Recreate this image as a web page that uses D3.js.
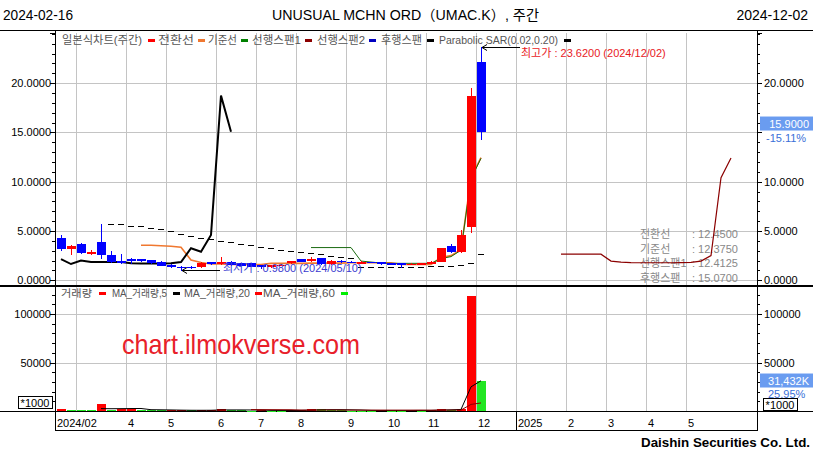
<!DOCTYPE html>
<html><head><meta charset="utf-8">
<script src="https://cdn.jsdelivr.net/npm/d3@7/dist/d3.min.js"></script>
<style>
body{margin:0;background:#fff;}
svg{display:block;}
text{font-family:Arial,"Liberation Sans","Noto Sans CJK KR",sans-serif;}
</style></head><body>
<svg id="c" width="813" height="455"></svg>
<script>
// ---------------- DATA ----------------
const startDate = "2024-02-16", endDate = "2024-12-02";
const titleText = "UNUSUAL MCHN ORD（UMAC.K）, 주간";
// weekly candles, index 0 = week of 2024-02-16
const opens  = [4.25,3.14,3.64,2.64,3.85,2.56,1.95,2.13,2.12,2.05,1.88,1.53,1.38,1.35,1.30,1.82,1.62,1.88,1.72,1.72,1.55,1.32,1.50,1.75,2.12,1.95,2.28,1.62,2.00,1.88,1.82,1.86,1.85,1.72,1.72,1.68,1.70,1.68,1.90,3.47,2.85,5.40,22.10];
const highs  = [4.59,3.55,3.75,3.10,5.70,2.99,2.65,2.30,2.20,2.10,1.95,1.70,1.50,1.45,1.85,1.90,2.32,1.95,1.80,1.78,1.60,1.60,1.70,2.00,2.20,2.35,2.30,2.10,2.05,1.95,1.92,1.90,1.88,1.78,1.75,1.75,1.76,1.95,3.30,3.70,5.10,19.50,23.62];
const lows   = [3.00,2.55,2.65,2.55,2.20,1.73,1.65,1.65,1.90,1.70,1.40,1.20,0.98,1.15,1.25,1.55,1.55,1.50,1.40,1.30,1.13,1.25,1.45,1.70,1.85,1.90,1.55,1.55,1.80,1.80,1.75,1.78,1.60,1.62,1.28,1.60,1.62,1.62,1.85,2.80,2.75,4.76,14.20];
const closes = [3.14,3.47,2.73,2.90,2.56,1.88,1.85,2.03,2.00,1.77,1.48,1.33,1.20,1.22,1.78,1.64,1.82,1.55,1.47,1.37,1.31,1.52,1.60,1.98,1.88,2.15,1.65,2.00,1.85,1.85,1.85,1.85,1.70,1.70,1.70,1.70,1.72,1.85,3.25,2.89,4.59,18.73,15.07];
// volume, thousands of shares
const volumes = [1.8,1.2,1.2,1.1,7.0,1.2,1.6,1.8,1.3,0.8,0.7,0.8,0.9,0.6,0.7,0.8,2.5,0.9,0.6,0.5,0.6,0.5,0.5,0.6,0.7,2.3,2.2,0.9,0.6,0.5,0.5,0.5,0.6,0.5,0.5,0.6,0.5,0.8,2.2,1.5,2.0,118.6,31.432];
// Ichimoku / indicators (null = not yet defined)
const tenkan = [null,null,null,null,null,null,null,null,3.55,3.55,3.5,3.45,3.35,2.05,1.8,1.65,1.65,1.6,1.6,1.6,1.6,1.72,1.72,1.72,1.72,1.74,1.74,1.74,1.74,1.78,1.78,1.78,1.78,1.78,1.62,1.6,1.6,1.6,2.3,2.5,3.1,10.4,12.45];
const kijunStart = 25;
const kijun = [3.32,3.32,3.32,3.32,3.32,1.95,1.85,1.75,1.72,1.72,1.72,1.72,1.72,2.2,2.4,3.05,10.3,12.375];
const leadShift = 25, leadAStart = 25;
const leadA = [2.65,2.65,2.65,2.65,2.65,1.95,1.85,1.8,1.78,1.78,1.78,1.78,1.8,1.82,1.95,2.5,10.4,12.41];
const lagging = [2.15,1.65,2.0,1.85,1.85,1.85,1.85,1.72,1.7,1.7,1.7,1.72,1.85,3.25,2.9,4.6,18.73,15.07];
const sarStart = 5;
const sar = [5.66,5.66,5.55,5.5,5.35,5.2,4.95,4.7,4.5,4.3,4.15,4.0,3.85,3.7,3.55,3.4,3.25,3.1,3.0,2.9,2.8,2.65,2.5,2.4,2.25,1.35,1.36,1.38,1.38,1.38,1.38,1.38,1.4,1.42,1.5,1.58,1.72,2.66];
const volMA5Start = 4;
const volMA5 = [2.46,2.34,2.42,2.54,2.58,1.34,1.24,1.08,0.9,0.76,0.74,0.76,1.1,1.1,1.1,1.06,1.02,0.62,0.54,0.56,0.58,0.88,1.22,1.36,1.36,1.2,1.0,0.6,0.52,0.54,0.54,0.54,0.56,0.58,0.92,1.22,1.6,24.9,31.2];
const volMA20Start = 19;
const volMA20 = [1.45,1.4,1.37,1.34,1.3,1.0,0.95,1.0,1.05,1.0,0.95,0.93,0.92,0.92,0.9,0.9,0.9,0.92,0.86,0.92,0.96,0.98,6.8,8.3];
// axis ticks
const weekTicks = [0,7,11,16,20,24,29,33,37,42,46,51,55,59,63];
const weekTickLabels = ["2024/02","4","5","6","7","8","9","10","11","12","2025","2","3","4","5"];
const monthGridWeeks = [2,7,11,16,20,24,29,33,37,42,46,51,55,59,63];
const yearBreakWeek = 46;
const priceTicks = [0,5,10,15,20];
const volTicks = [50,100];
// legends / info
const priceLegend = ["일본식차트(주간)","전환선","기준선","선행스팬1","선행스팬2","후행스팬","Parabolic SAR(0.02,0.20)"];
const priceLegendColors = ["#ff0000","#f07830","#008000","#8b0000","#0000c0","#000000","#000000"];
const volLegend = ["거래량","MA_거래량,5","MA_거래량,20","MA_거래량,60"];
const volLegendColors = ["#ff0000","#000000","#ff0000","#00ee00"];
const infoLabels = ["전환선","기준선","선행스팬1","후행스팬"];
const infoValues = [12.45,12.375,12.4125,15.07];
const highInfo = {value:23.62, date:"2024/12/02", week:42};
const lowInfo = {value:0.98, date:"2024/05/10", week:12};
const lastPrice = 15.9, lastPriceChange = -15.11;
const lastVolume = 31432, lastVolumeChange = 25.95;

// ---------------- DRAW ----------------
const svg = d3.select("#c");
const W = 813, H = 455;
const L = 55, R = 757, PT = 33, PB = 286, VT = 287, VB = 411, AB = 430;
const x = d3.scaleBand().domain(d3.range(70)).range([56, 756]);
const cx = i => x(i) + x.bandwidth() / 2;
const yP = d3.scaleLinear().domain([0, 20]).range([280.3, 83.1]);
const yV = d3.scaleLinear().domain([0, 100]).range([411, 314]);
const GRID = "#c4c4c4";
const FONT = "Arial,'Liberation Sans',sans-serif";
const KFONT = "'Noto Sans CJK KR',Arial,sans-serif";

svg.append("rect").attr("width", W).attr("height", H).attr("fill", "#fff");

function text(x0, y0, s, o = {}) {
  const t = svg.append("text").attr("x", x0).attr("y", y0).text(s)
    .attr("font-size", o.size || 11).attr("fill", o.fill || "#000")
    .attr("font-family", o.family || FONT);
  if (o.anchor) t.attr("text-anchor", o.anchor);
  if (o.weight) t.attr("font-weight", o.weight);
  if (o.len) t.attr("textLength", o.len).attr("lengthAdjust", "spacingAndGlyphs");
  return t;
}
function line(x1, y1, x2, y2, c, w = 1, g = svg) {
  return g.append("line").attr("x1", x1).attr("y1", y1).attr("x2", x2).attr("y2", y2)
    .attr("stroke", c).attr("stroke-width", w);
}

// grid
const grid = svg.append("g").attr("shape-rendering", "crispEdges");
monthGridWeeks.forEach(w => line(x(w) + 0.5, PT, x(w) + 0.5, VB, GRID, 1, grid));
priceTicks.forEach(v => line(L, Math.round(yP(v)) + 0.5, R, Math.round(yP(v)) + 0.5, GRID, 1, grid));
volTicks.forEach(v => line(L, Math.round(yV(v)) + 0.5, R, Math.round(yV(v)) + 0.5, GRID, 1, grid));

// frame
const fr = svg.append("g").attr("shape-rendering", "crispEdges");
line(0, 30.5, W, 30.5, "#000", 1, fr);
line(0, 286, W, 286, "#000", 2, fr);
line(0, 411.5, W, 411.5, "#000", 1, fr);
line(L + 0.5, 30, L + 0.5, AB, "#000", 1, fr);
line(R + 0.5, 30, R + 0.5, AB, "#000", 1, fr);
line(L, AB + 0.5, R + 1, AB + 0.5, "#000", 1, fr);
line(x(yearBreakWeek) + 0.5, VB, x(yearBreakWeek) + 0.5, AB, "#000", 1, fr);

// axis ticks
d3.range(0, 26, 1).forEach(v => {
  const yy = Math.round(yP(v)) + 0.5; if (yy < PT) return;
  const len = priceTicks.includes(v) ? 5 : 3;
  line(L - len, yy, L, yy, "#000", 1, fr);
  line(R, yy, R + len, yy, "#000", 1, fr);
});
line(L - 5, PT + 0.5, L, PT + 0.5, "#000", 1, fr);
line(R, PT + 0.5, R + 5, PT + 0.5, "#000", 1, fr);
d3.range(0, 130, 10).forEach(v => {
  const yy = Math.round(yV(v)) + 0.5; if (yy < VT + 2) return;
  const len = volTicks.includes(v) ? 5 : 3;
  line(L - len, yy, L, yy, "#000", 1, fr);
  line(R, yy, R + len, yy, "#000", 1, fr);
});

// axis labels
priceTicks.forEach(v => {
  text(51, yP(v) + 4, v.toFixed(4), {anchor: "end"});
  if (v !== 15) text(764, yP(v) + 4, v.toFixed(4));
});
volTicks.forEach(v => {
  text(51, yV(v) + 4, String(v * 1000), {anchor: "end"});
  text(764, yV(v) + 4, String(v * 1000));
});
weekTicks.forEach((w, i) => text(x(w) + (i === 0 ? 1 : 2), 427, weekTickLabels[i], {size: 11}));

// title
text(3, 20, startDate, {size: 14, len: 70});
text(272, 20, titleText, {size: 14, len: 267, family: KFONT});
text(808, 20, endDate, {size: 14, anchor: "end"});
text(810, 447, "Daishin Securities Co. Ltd.", {size: 12, weight: "bold", anchor: "end", len: 169});

// legends (layout positions of each label and its colour chip)
function legend(items, colors, textX, textW, chipX, y0, size) {
  items.forEach((s, i) => {
    text(textX[i], y0, s, {size: size, fill: "#555", family: KFONT, len: textW[i]});
    svg.append("rect").attr("x", chipX[i]).attr("y", y0 - 5).attr("width", 7).attr("height", 3).attr("fill", colors[i]);
  });
}
legend(priceLegend, priceLegendColors,
  [62, 158, 208, 252, 317, 381, 439], [80, 36, 29, 49, 48, 41, 119],
  [148, 198, 241, 305, 369, 427, 564], 44, 11);
legend(volLegend, volLegendColors,
  [61, 112, 184, 263], [31, 55, 66, 72],
  [99, 173, 255, 341], 297, 10.5);

// watermark
text(122, 354, "chart.ilmokverse.com", {size: 28, fill: "#e8202a", len: 238});

// info box
infoLabels.forEach((s, i) => {
  const yy = 238 + i * 14.5;
  text(640, yy, s, {fill: "#888", family: KFONT, size: 11});
  text(692, yy, ": " + infoValues[i].toFixed(4), {fill: "#888", size: 11});
});

// price indicator lines
const lg = svg.append("g").attr("fill", "none");
const mk = d3.line().defined(d => d[1] != null).x(d => cx(d[0])).y(d => yP(d[1]));
lg.append("path").attr("d", mk(tenkan.map((v, i) => [i, v]))).attr("stroke", "#f07830").attr("stroke-width", 1.6);
lg.append("path").attr("d", mk(kijun.map((v, i) => [i + kijunStart, v]))).attr("stroke", "#1a6a10").attr("stroke-width", 1);
lg.append("path").attr("d", mk(leadA.map((v, i) => [i + leadAStart + leadShift, v]))).attr("stroke", "#8b0000").attr("stroke-width", 1.2);

// SAR dashes
sar.forEach((v, i) => line(cx(i + sarStart) - 3, Math.round(yP(v)) + 0.5, cx(i + sarStart) + 3, Math.round(yP(v)) + 0.5, "#000", 1));

// candles
const cg = svg.append("g").attr("shape-rendering", "crispEdges");
closes.forEach((c, i) => {
  const o = opens[i], up = c >= o, col = up ? "#ff0000" : "#0000ff";
  const xc = Math.round(cx(i));
  line(xc + 0.5, yP(highs[i]), xc + 0.5, yP(lows[i]), col, 1, cg);
  const y1 = yP(Math.max(o, c)), y2 = yP(Math.min(o, c));
  cg.append("rect").attr("x", xc - 4).attr("y", y1).attr("width", 9).attr("height", Math.max(1.5, y2 - y1)).attr("fill", col);
});

// lagging span (black)
lg.append("path").attr("d", mk(lagging.map((v, i) => [i, v]))).attr("stroke", "#000").attr("stroke-width", 2);

// annotations
function arrow(x1, y1, x2, col) {
  line(x1, y1, x2, y1, col, 1);
  line(x1, y1, x1 + 5, y1 - 3, col, 1);
  line(x1, y1, x1 + 5, y1 + 3, col, 1);
}
const hy = Math.round(yP(highInfo.value)) + 0.5;
arrow(cx(highInfo.week) + 1, hy, 520, "#000");
text(521, hy + 9, "최고가 : " + highInfo.value.toFixed(4) + " (" + highInfo.date + ")", {fill: "#e8191e", family: KFONT, size: 11});
const ly = Math.round(yP(lowInfo.value)) - 0.5;
arrow(cx(lowInfo.week) + 1, ly, 220, "#000");
text(223, ly + 1, "최저가 : " + lowInfo.value.toFixed(4) + " (" + lowInfo.date + ")", {fill: "#3b3bd0", family: KFONT, size: 11});

// volume bars
const vg = svg.append("g").attr("shape-rendering", "crispEdges");
volumes.forEach((v, i) => {
  const col = (i === 0 || v > volumes[i - 1]) ? "#ff0000" : "#22e622";
  const xc = Math.round(cx(i));
  vg.append("rect").attr("x", xc - 4).attr("y", yV(v)).attr("width", 9).attr("height", Math.max(1, yV(0) - yV(v))).attr("fill", col);
});
const mv = d3.line().x(d => cx(d[0])).y(d => yV(d[1]));
svg.append("path").attr("d", mv(volMA5.map((v, i) => [i + volMA5Start, v]))).attr("fill", "none").attr("stroke", "#000").attr("stroke-width", 1);
svg.append("path").attr("d", mv(volMA20.map((v, i) => [i + volMA20Start, v]))).attr("fill", "none").attr("stroke", "#8b0000").attr("stroke-width", 1);

// *1000 boxes
function unitBox(x0, y0) {
  svg.append("rect").attr("x", x0 + 0.5).attr("y", y0 + 0.5).attr("width", 34).attr("height", 12).attr("fill", "#fff").attr("stroke", "#000");
  text(x0 + 17, y0 + 10.5, "*1000", {anchor: "middle", size: 11});
}
unitBox(18, 396);
unitBox(763, 398);

// last value boxes
function valBox(yc, s) {
  svg.append("rect").attr("x", 760).attr("y", yc - 7).attr("width", 53).attr("height", 14).attr("fill", "#6a9cf0");
  text(809, yc + 4, s, {fill: "#fff", anchor: "end", size: 11});
}
valBox(yP(lastPrice), lastPrice.toFixed(4));
text(766, yP(lastPrice) + 18, lastPriceChange.toFixed(2) + "%", {fill: "#3a6fd8", size: 11});
valBox(yV(lastVolume / 1000), d3.format(",")(lastVolume) + "K");
text(768, yV(lastVolume / 1000) + 17, lastVolumeChange.toFixed(2) + "%", {fill: "#3a6fd8", size: 11});
</script>
</body></html>
